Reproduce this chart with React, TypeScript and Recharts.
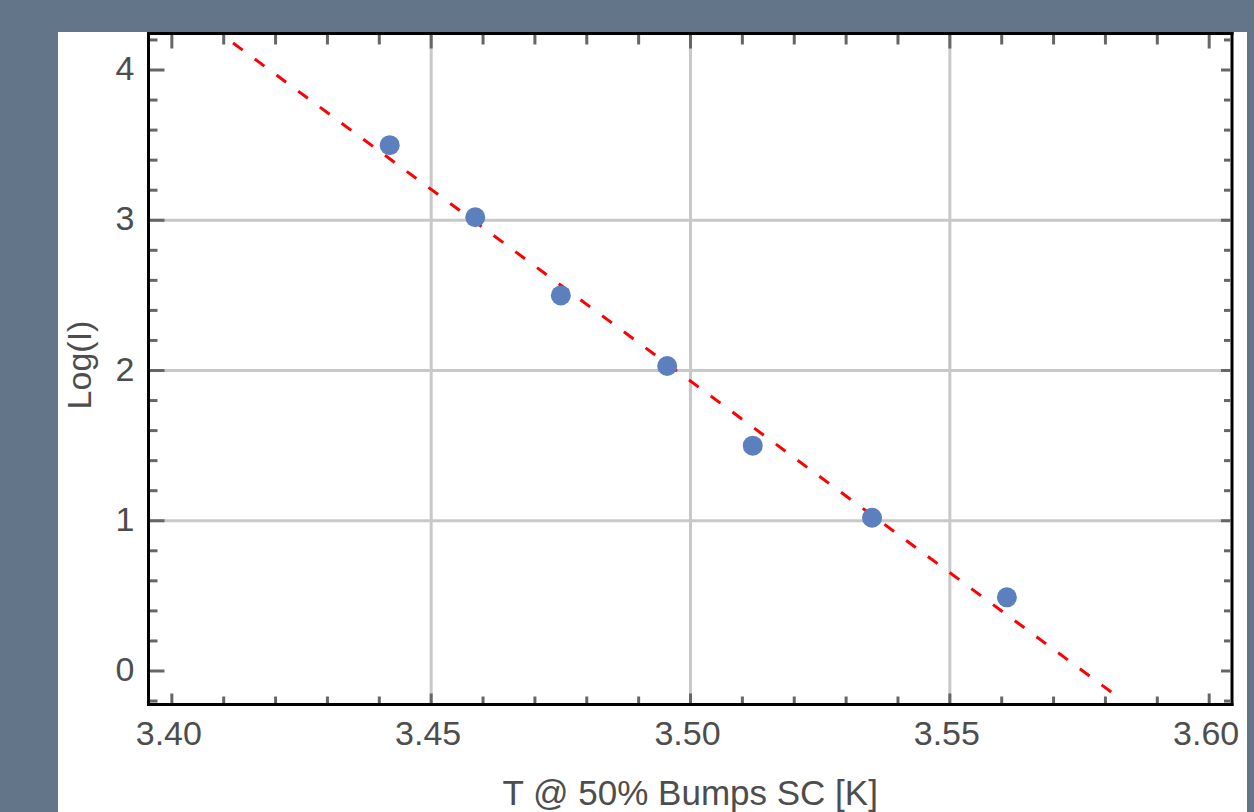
import { ScatterChart, Scatter, XAxis, YAxis, ReferenceLine, Label } from 'recharts';

// measured points: temperature at 50% bumps SC vs log current
const tempK = [3.442, 3.4585, 3.475, 3.4955, 3.512, 3.535, 3.561];
const logI = [3.5, 3.02, 2.5, 2.03, 1.5, 1.02, 0.49];

// fitted line end points
const fitT = [3.4118, 3.5823];
const fitLogI = [4.18, -0.17];

const xTicks = [3.4, 3.41, 3.42, 3.43, 3.44, 3.45, 3.46, 3.47, 3.48, 3.49, 3.5, 3.51, 3.52, 3.53, 3.54, 3.55, 3.56, 3.57, 3.58, 3.59, 3.6];
const xMajor = [3.4, 3.45, 3.5, 3.55, 3.6];
const xGrid = [3.45, 3.5, 3.55];
const yTicks = [-0.2, 0, 0.2, 0.4, 0.6, 0.8, 1, 1.2, 1.4, 1.6, 1.8, 2, 2.2, 2.4, 2.6, 2.8, 3, 3.2, 3.4, 3.6, 3.8, 4, 4.2];
const yMajor = [0, 1, 2, 3, 4];
const yGrid = [1, 2, 3];

const points = tempK.map((t, i) => ({ t, logI: logI[i] }));
const fitData = fitT.map((t, i) => ({ t, logI: fitLogI[i] }));

const FONT = '"Liberation Sans", Arial, sans-serif';
const TXT = '#4d4d4d';
const TICK = '#666';
const FS = 34;
const isMajor = (list: number[], v: number) => list.some(m => Math.abs(m - v) < 1e-6);

function BottomTick({ x, y, payload }: any) {
  const major = isMajor(xMajor, payload.value);
  return (
    <g>
      <line x1={x} y1={y - 1.5} x2={x} y2={y - (major ? 11 : 8)} stroke={TICK} strokeWidth={3} />
      {major && (
        <text x={x - 3} y={y + 40} textAnchor="middle" fontFamily={FONT} fontSize={FS} fill={TXT}>
          {payload.value.toFixed(2)}
        </text>
      )}
    </g>
  );
}

function TopTick({ x, y, payload }: any) {
  const major = isMajor(xMajor, payload.value);
  return <line x1={x} y1={y + 1.5} x2={x} y2={y + (major ? 15 : 11)} stroke={TICK} strokeWidth={3} />;
}

function LeftTick({ x, y, payload }: any) {
  const major = isMajor(yMajor, payload.value);
  return (
    <g>
      <line x1={x + 1.5} y1={y} x2={x + (major ? 16 : 9)} y2={y} stroke={TICK} strokeWidth={3} />
      {major && (
        <text x={x - 14} y={y + 10} textAnchor="end" fontFamily={FONT} fontSize={FS} fill={TXT}>
          {String(payload.value)}
        </text>
      )}
    </g>
  );
}

function RightTick({ x, y, payload }: any) {
  const major = isMajor(yMajor, payload.value);
  return <line x1={x - 1.5} y1={y} x2={x - (major ? 11 : 8)} y2={y} stroke={TICK} strokeWidth={3} />;
}

function YTitle({ viewBox }: any) {
  const cx = viewBox.x + 21;
  const cy = viewBox.y + viewBox.height / 2 - 4;
  return (
    <text x={cx} y={cy} transform={`rotate(-90 ${cx} ${cy})`} textAnchor="middle" dominantBaseline="central"
      fontFamily={FONT} fontSize={FS} fill={TXT}>
      Log(I)
    </text>
  );
}

const frame = { stroke: '#000', strokeWidth: 3, strokeLinecap: 'square' as const };

export default function App() {
  return (
    <div style={{ position: 'absolute', left: 0, top: 0, width: 1254, height: 812, background: '#627589' }}>
      <div style={{ position: 'absolute', left: 58, top: 32, width: 1189, height: 780, background: '#fff' }}>
        <ScatterChart width={1189} height={780} margin={{ top: 0.5, right: 14, bottom: 0, left: 0 }}>
          <XAxis xAxisId="b" dataKey="t" type="number" domain={[3.3955, 3.6044]} allowDataOverflow
            ticks={xTicks} interval={0} tickSize={0} tickMargin={0} tickLine={false} axisLine={frame}
            tick={<BottomTick />} height={107.5}>
            <Label value="T @ 50% Bumps SC [K]" position="insideBottom" offset={7}
              style={{ fontFamily: FONT, fontSize: FS + 1, fill: TXT }} />
          </XAxis>
          <XAxis xAxisId="t" orientation="top" dataKey="t" type="number" domain={[3.3955, 3.6044]} allowDataOverflow
            ticks={xTicks} interval={0} tickSize={0} tickMargin={0} tickLine={false} axisLine={frame}
            tick={<TopTick />} height={1} />
          <YAxis yAxisId="l" dataKey="logI" type="number" domain={[-0.223, 4.243]} allowDataOverflow
            ticks={yTicks} interval={0} tickSize={0} tickMargin={0} tickLine={false} axisLine={frame}
            tick={<LeftTick />} width={90.5}>
            <Label content={<YTitle />} />
          </YAxis>
          <YAxis yAxisId="r" orientation="right" dataKey="logI" type="number" domain={[-0.223, 4.243]} allowDataOverflow
            ticks={yTicks} interval={0} tickSize={0} tickMargin={0} tickLine={false} axisLine={frame}
            tick={<RightTick />} width={1} />
          {xGrid.map(v => (
            <ReferenceLine key={'x' + v} xAxisId="b" yAxisId="l" x={v} stroke="#c8c8c8" strokeWidth={3} />
          ))}
          {yGrid.map(v => (
            <ReferenceLine key={'y' + v} xAxisId="b" yAxisId="l" y={v} stroke="#c8c8c8" strokeWidth={3} />
          ))}
          <Scatter xAxisId="t" yAxisId="r" data={fitData} isAnimationActive={false}
            line={{ stroke: '#ff0000', strokeWidth: 3, strokeDasharray: '12 15' }}
            shape={() => <g />} legendType="none" />
          <Scatter xAxisId="b" yAxisId="l" data={points} isAnimationActive={false}
            shape={(p: any) => <circle cx={p.cx} cy={p.cy} r={10} fill="#5b80bd" />} />
        </ScatterChart>
      </div>
    </div>
  );
}
